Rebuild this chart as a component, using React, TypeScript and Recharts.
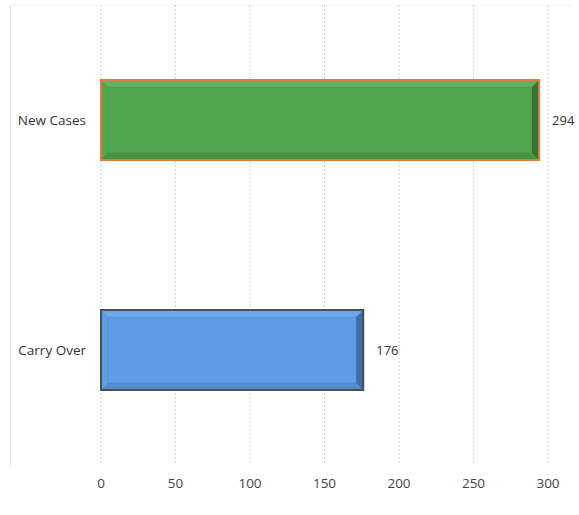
import { BarChart, Bar, XAxis, YAxis, CartesianGrid, LabelList, Cell } from 'recharts';

const categories = ['New Cases', 'Carry Over'];
const caseCounts = [294, 176];
const xTicks = [0, 50, 100, 150, 200, 250, 300];

const fills = ['#4fa64c', '#5c9de6'];
const strokes = ['#e57a3c', '#4a4f57'];

const data = categories.map((name, i) => ({ name, value: caseCounts[i] }));

// bevelled bar, like the old office "bevel" shape style
function BevelBar(props: any) {
  const { x, y, width, height, index } = props;
  if (!width || width <= 0) return null;
  const fill = fills[index];
  const stroke = strokes[index];
  const b = 7;
  return (
    <g>
      <rect x={x} y={y} width={width} height={height} fill={fill} />
      {/* top highlight */}
      <polygon
        points={`${x},${y} ${x + width},${y} ${x + width - b},${y + b} ${x + b},${y + b}`}
        fill="#ffffff"
        opacity={0.12}
      />
      {/* right shadow */}
      <polygon
        points={`${x + width},${y} ${x + width},${y + height} ${x + width - b},${y + height - b} ${x + width - b},${y + b}`}
        fill="#000000"
        opacity={0.3}
      />
      {/* bottom shadow */}
      <polygon
        points={`${x},${y + height} ${x + width},${y + height} ${x + width - b},${y + height - b} ${x + b},${y + height - b}`}
        fill="#000000"
        opacity={0.1}
      />
      <rect x={x + b} y={y + b} width={width - 2 * b} height={height - 2 * b} fill="none" stroke="#000" strokeOpacity={0.06} />
      <rect x={x} y={y} width={width} height={height} fill="none" stroke={stroke} strokeWidth={2} />
    </g>
  );
}

export default function App() {
  return (
    <div style={{ position: 'absolute', left: 0, top: 0, width: 579, height: 515, background: '#fff' }}>
      <div
        style={{
          position: 'absolute',
          left: 10,
          top: 5,
          width: 560,
          height: 462,
          borderLeft: '1px dotted #cfcfcf',
          borderTop: '1px dotted #e6e6e6',
        }}
      />
      <BarChart
        width={579}
        height={515}
        data={data}
        layout="vertical"
        barSize={80}
        margin={{ top: 5, right: 31, left: 10, bottom: 20 }}
        style={{ fontFamily: '"Open Sans", "Noto Sans", sans-serif' }}
      >
        <CartesianGrid horizontal={false} stroke="#cfcfcf" strokeDasharray="2 2" />
        <XAxis
          type="number"
          domain={[0, 300]}
          ticks={xTicks}
          axisLine={false}
          tickLine={false}
          tickMargin={7}
          height={30}
          tick={{ fill: '#444', fontSize: 13.5 }}
        />
        <YAxis
          type="category"
          dataKey="name"
          width={91}
          axisLine={false}
          tickLine={false}
          tickMargin={9}
          tick={{ fill: '#333', fontSize: 13.5 }}
        />
        <Bar dataKey="value" shape={<BevelBar />} isAnimationActive={false}>
          {data.map((d, i) => (
            <Cell key={d.name} fill={fills[i]} />
          ))}
          <LabelList dataKey="value" position="right" offset={13} fill="#333" fontSize={13} />
        </Bar>
      </BarChart>
    </div>
  );
}
